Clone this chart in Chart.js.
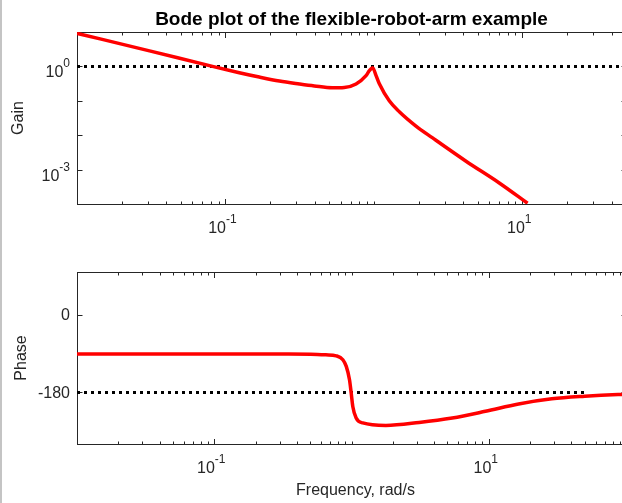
<!DOCTYPE html>
<html>
<head>
<meta charset="utf-8">
<script src="https://cdn.jsdelivr.net/npm/chart.js@4.4.1/dist/chart.umd.min.js"></script>
<style>
  html, body { margin: 0; padding: 0; background: #fff; overflow: hidden; }
  body { width: 622px; height: 503px; position: relative; }
  #edge { position: absolute; left: 0; top: 0; width: 2px; height: 503px; background: #c4c4c4; z-index: 2; }
  canvas { display: block; }
</style>
</head>
<body>
<div id="edge"></div>
<canvas id="gainChart" width="640" height="250"></canvas>
<canvas id="phaseChart" width="640" height="253"></canvas>
<script>
// frequency response
const gainFreq = [0.01, 0.0308, 0.0818, 0.124, 0.169, 0.231, 0.315, 0.397, 0.526, 0.632, 0.759, 0.886, 0.933, 0.982, 1.035, 1.089, 1.27, 1.485, 1.923, 2.49, 4.18, 7.0, 10.86];
const gainMag = [9.14, 2.83, 1.0, 0.654, 0.489, 0.375, 0.308, 0.27, 0.239, 0.244, 0.308, 0.54, 0.75, 0.918, 0.54, 0.312, 0.1, 0.0482, 0.01845, 0.00833, 0.001757, 4.09e-4, 1.05e-4];

const phaseFreq = [0.01, 0.1, 0.3, 0.505, 0.65, 0.774, 0.865, 0.916, 0.967, 0.995, 1.022, 1.081, 1.208, 1.78, 3.11, 5.42, 9.46, 16.5, 28.8, 50.1, 87.5, 100];
const phaseDeg = [-90.7, -90.7, -90.8, -91, -92.5, -95, -104, -119.5, -150.5, -181.4, -212.6, -239.5, -251, -256.7, -249.8, -239.5, -224, -207, -195, -189, -185, -184.5];

// reference lines (unity gain, -180 deg)
const refFreq = [0.01, 50];
const gainRef = [1, 1];
const phaseRef = [-180, -180];

// axis ticks and labels
const gainXLabelTicks = [0.1, 10];
const gainXLabels = [['10', '-1'], ['10', '1']];
const gainYLabelTicks = [1, 0.001];
const gainYLabels = [['10', '0'], ['10', '-3']];
const gainYTicks = [1e-4, 1e-3, 1e-2, 1e-1, 1, 10];
const phaseXLabelTicks = [0.1, 10];
const phaseXLabels = [['10', '-1'], ['10', '1']];
const phaseYTicks = [0, -180];
const phaseYLabels = ['0', '-180'];

const FONT = '"Liberation Sans", Arial, sans-serif';
const AXIS_COLOR = '#262626';
const TICK_FONT = '16px ' + FONT;
const EXP_FONT = '12px ' + FONT;

function toPoints(xs, ys) {
    return xs.map((x, i) => ({ x: x, y: ys[i] }));
}

function logMinorTicks(min, max, skip) {
    const out = [];
    for (let e = Math.floor(Math.log10(min)); e <= Math.ceil(Math.log10(max)); e++) {
        for (let m = 1; m <= 9; m++) {
            const v = m * Math.pow(10, e);
            if (v < min * 0.999 || v > max * 1.001) continue;
            if (skip.some((s) => Math.abs(s - v) / s < 1e-6)) continue;
            out.push(v);
        }
    }
    return out;
}

function drawPow(ctx, base, exp, x, y, align) {
    ctx.font = TICK_FONT;
    const w1 = ctx.measureText(base).width;
    ctx.font = EXP_FONT;
    const w2 = ctx.measureText(exp).width;
    const sx = align === 'center' ? x - (w1 + w2) / 2 : x - w1 - w2;
    ctx.textAlign = 'left';
    ctx.textBaseline = 'alphabetic';
    ctx.font = TICK_FONT;
    ctx.fillText(base, sx, y);
    ctx.font = EXP_FONT;
    ctx.fillText(exp, sx + w1, y - 10);
}

// matlab-like box with inward ticks, drawn under the data
const bodeAxes = {
    id: 'bodeAxes',
    beforeDatasetsDraw(chart, args, o) {
        const { ctx, chartArea: a, scales } = chart;
        const l = Math.round(a.left) + 0.5, r = Math.round(a.right) + 0.5;
        const t = Math.round(a.top) + 0.5, b = Math.round(a.bottom) + 0.5;
        ctx.save();
        ctx.strokeStyle = AXIS_COLOR;
        ctx.lineWidth = 1;
        ctx.strokeRect(l, t, r - l, b - t);
        ctx.beginPath();
        const xTick = (v, len) => {
            const px = Math.round(scales.x.getPixelForValue(v)) + 0.5;
            ctx.moveTo(px, b); ctx.lineTo(px, b - len);
            ctx.moveTo(px, t); ctx.lineTo(px, t + len);
        };
        o.xMajor.forEach((v) => xTick(v, 5.5));
        o.xMinor.forEach((v) => xTick(v, 3));
        o.yTicks.forEach((v) => {
            const py = Math.round(scales.y.getPixelForValue(v)) + 0.5;
            ctx.moveTo(l, py); ctx.lineTo(l + 5, py);
            ctx.moveTo(r, py); ctx.lineTo(r - 5, py);
        });
        ctx.stroke();
        ctx.restore();
    },
    afterDraw(chart, args, o) {
        const { ctx, chartArea: a, scales } = chart;
        ctx.save();
        ctx.fillStyle = AXIS_COLOR;
        o.xMajor.forEach((v, i) => {
            const px = scales.x.getPixelForValue(v);
            drawPow(ctx, o.xLabels[i][0], o.xLabels[i][1], px - 3, a.bottom + 29, 'center');
        });
        if (o.yPow) {
            o.yLabelTicks.forEach((v, i) => {
                const py = scales.y.getPixelForValue(v);
                drawPow(ctx, o.yLabels[i][0], o.yLabels[i][1], a.left - 7, py + 11, 'right');
            });
        } else {
            ctx.font = TICK_FONT;
            ctx.textAlign = 'right';
            ctx.textBaseline = 'middle';
            o.yLabelTicks.forEach((v, i) => {
                ctx.fillText(o.yLabels[i], a.left - 7, scales.y.getPixelForValue(v) + 1);
            });
        }
        ctx.font = '16px ' + FONT;
        ctx.textAlign = 'center';
        ctx.textBaseline = 'middle';
        ctx.save();
        ctx.translate(o.yTitleX, (a.top + a.bottom) / 2);
        ctx.rotate(-Math.PI / 2);
        ctx.fillText(o.yTitle, 0, 0);
        ctx.restore();
        if (o.xTitle) {
            ctx.textBaseline = 'alphabetic';
            ctx.fillText(o.xTitle, o.xTitleX, o.xTitleY);
        }
        if (o.title) {
            ctx.fillStyle = '#000';
            ctx.font = 'bold 19px ' + FONT;
            ctx.textBaseline = 'alphabetic';
            ctx.fillText(o.title, (a.left + a.right) / 2, 25);
        }
        ctx.restore();
    },
};

function lineSet(data) {
    return {
        data: data,
        borderColor: '#ff0000',
        borderWidth: 3.5,
        pointRadius: 0,
        cubicInterpolationMode: 'monotone',
        fill: false,
        clip: 0,
    };
}

function refSet(data) {
    return {
        data: data,
        borderColor: '#000000',
        borderWidth: 3,
        borderDash: [3, 4],
        borderCapStyle: 'butt',
        pointRadius: 0,
        fill: false,
        clip: 0,
    };
}

new Chart(document.getElementById('gainChart'), {
    type: 'line',
    data: {
        datasets: [
            lineSet(toPoints(gainFreq, gainMag)),
            refSet(toPoints(refFreq, gainRef)),
        ],
    },
    options: {
        responsive: false,
        animation: false,
        devicePixelRatio: 1,
        events: [],
        layout: { padding: { left: 77, right: 14, top: 32, bottom: 46 } },
        scales: {
            x: { type: 'logarithmic', min: 0.01, max: 50, display: false },
            y: { type: 'logarithmic', min: 1e-4, max: 10, display: false },
        },
        plugins: {
            legend: { display: false },
            tooltip: { enabled: false },
            bodeAxes: {
                xMajor: gainXLabelTicks,
                xMinor: logMinorTicks(0.01, 50, gainXLabelTicks),
                xLabels: gainXLabels,
                yTicks: gainYTicks,
                yLabelTicks: gainYLabelTicks,
                yLabels: gainYLabels,
                yPow: true,
                yTitle: 'Gain',
                yTitleX: 18.5,
                title: 'Bode plot of the flexible-robot-arm example',
            },
        },
    },
    plugins: [bodeAxes],
});

new Chart(document.getElementById('phaseChart'), {
    type: 'line',
    data: {
        datasets: [
            lineSet(toPoints(phaseFreq, phaseDeg)),
            refSet(toPoints(refFreq, phaseRef)),
        ],
    },
    options: {
        responsive: false,
        animation: false,
        devicePixelRatio: 1,
        events: [],
        layout: { padding: { left: 77, right: 14, top: 22, bottom: 59 } },
        scales: {
            x: { type: 'logarithmic', min: 0.01, max: 100, display: false },
            y: { type: 'linear', min: -300, max: 100, display: false },
        },
        plugins: {
            legend: { display: false },
            tooltip: { enabled: false },
            bodeAxes: {
                xMajor: phaseXLabelTicks,
                xMinor: logMinorTicks(0.01, 100, phaseXLabelTicks),
                xLabels: phaseXLabels,
                yTicks: phaseYTicks,
                yLabelTicks: phaseYTicks,
                yLabels: phaseYLabels,
                yPow: false,
                yTitle: 'Phase',
                yTitleX: 21.7,
                xTitle: 'Frequency, rad/s',
                xTitleX: 355.5,
                xTitleY: 245,
            },
        },
    },
    plugins: [bodeAxes],
});
</script>
</body>
</html>
